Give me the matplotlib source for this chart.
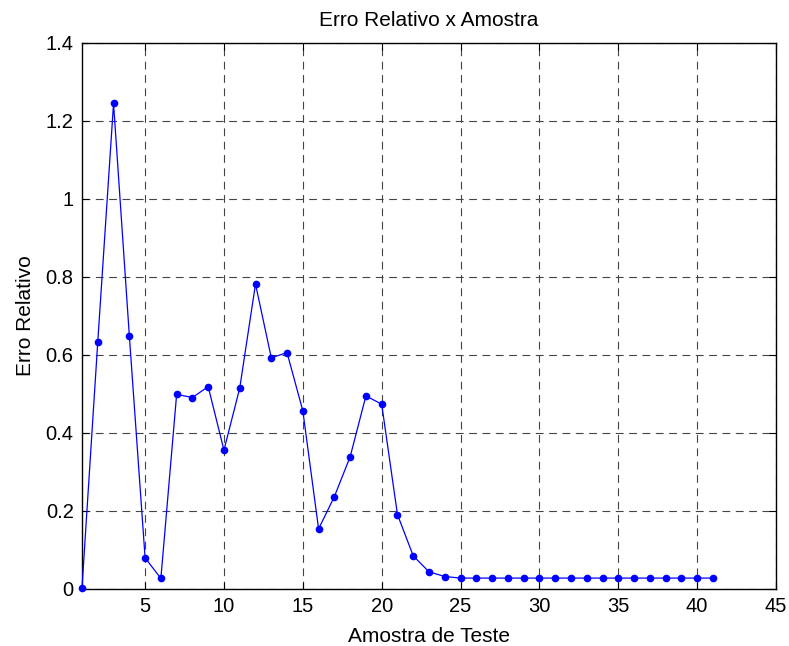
import matplotlib
matplotlib.use("Agg")
import matplotlib.pyplot as plt

plt.rcParams['font.family'] = ['Liberation Sans', 'DejaVu Sans']

sample = list(range(1, 42))
rel_error = [
    0.003, 0.634, 1.245, 0.650, 0.080, 0.027, 0.499, 0.491, 0.519, 0.356,
    0.515, 0.782, 0.593, 0.606, 0.457, 0.154, 0.237, 0.339, 0.495, 0.474,
    0.191, 0.085, 0.044, 0.032, 0.028, 0.028, 0.028, 0.028, 0.028, 0.028,
    0.028, 0.028, 0.028, 0.028, 0.028, 0.028, 0.028, 0.028, 0.028, 0.028,
    0.028,
]
x_ticks = [5, 10, 15, 20, 25, 30, 35, 40, 45]
y_ticks = [0, 0.2, 0.4, 0.6, 0.8, 1.0, 1.2, 1.4]
y_tick_labels = ['0', '0.2', '0.4', '0.6', '0.8', '1', '1.2', '1.4']

fig = plt.figure(figsize=(7.89, 6.46), dpi=100)
ax = fig.add_axes([82 / 789, 57 / 646, 694 / 789, 546 / 646])

ax.plot(sample, rel_error, color='#0000ff', linewidth=0.9, marker='o',
        markersize=4.5, markerfacecolor='#0000ff', markeredgecolor='#0000ff',
        clip_on=False, zorder=3)

ax.set_xlim(1, 45)
ax.set_ylim(0, 1.4)
ax.set_xticks(x_ticks)
ax.set_yticks(y_ticks)
ax.set_yticklabels(y_tick_labels)

ax.grid(True, color='#444444', linestyle=(0, (7, 5)), linewidth=0.8)
ax.tick_params(direction='in', top=True, right=True, length=5, width=0.8,
               labelsize=14.5, pad=6)
for spine in ax.spines.values():
    spine.set_linewidth(1.0)

ax.set_title('Erro Relativo x Amostra', fontsize=15, pad=12)
ax.set_xlabel('Amostra de Teste', fontsize=15, labelpad=8)
ax.set_ylabel('Erro Relativo', fontsize=15, labelpad=8)

fig.savefig('out.png', dpi=100)
